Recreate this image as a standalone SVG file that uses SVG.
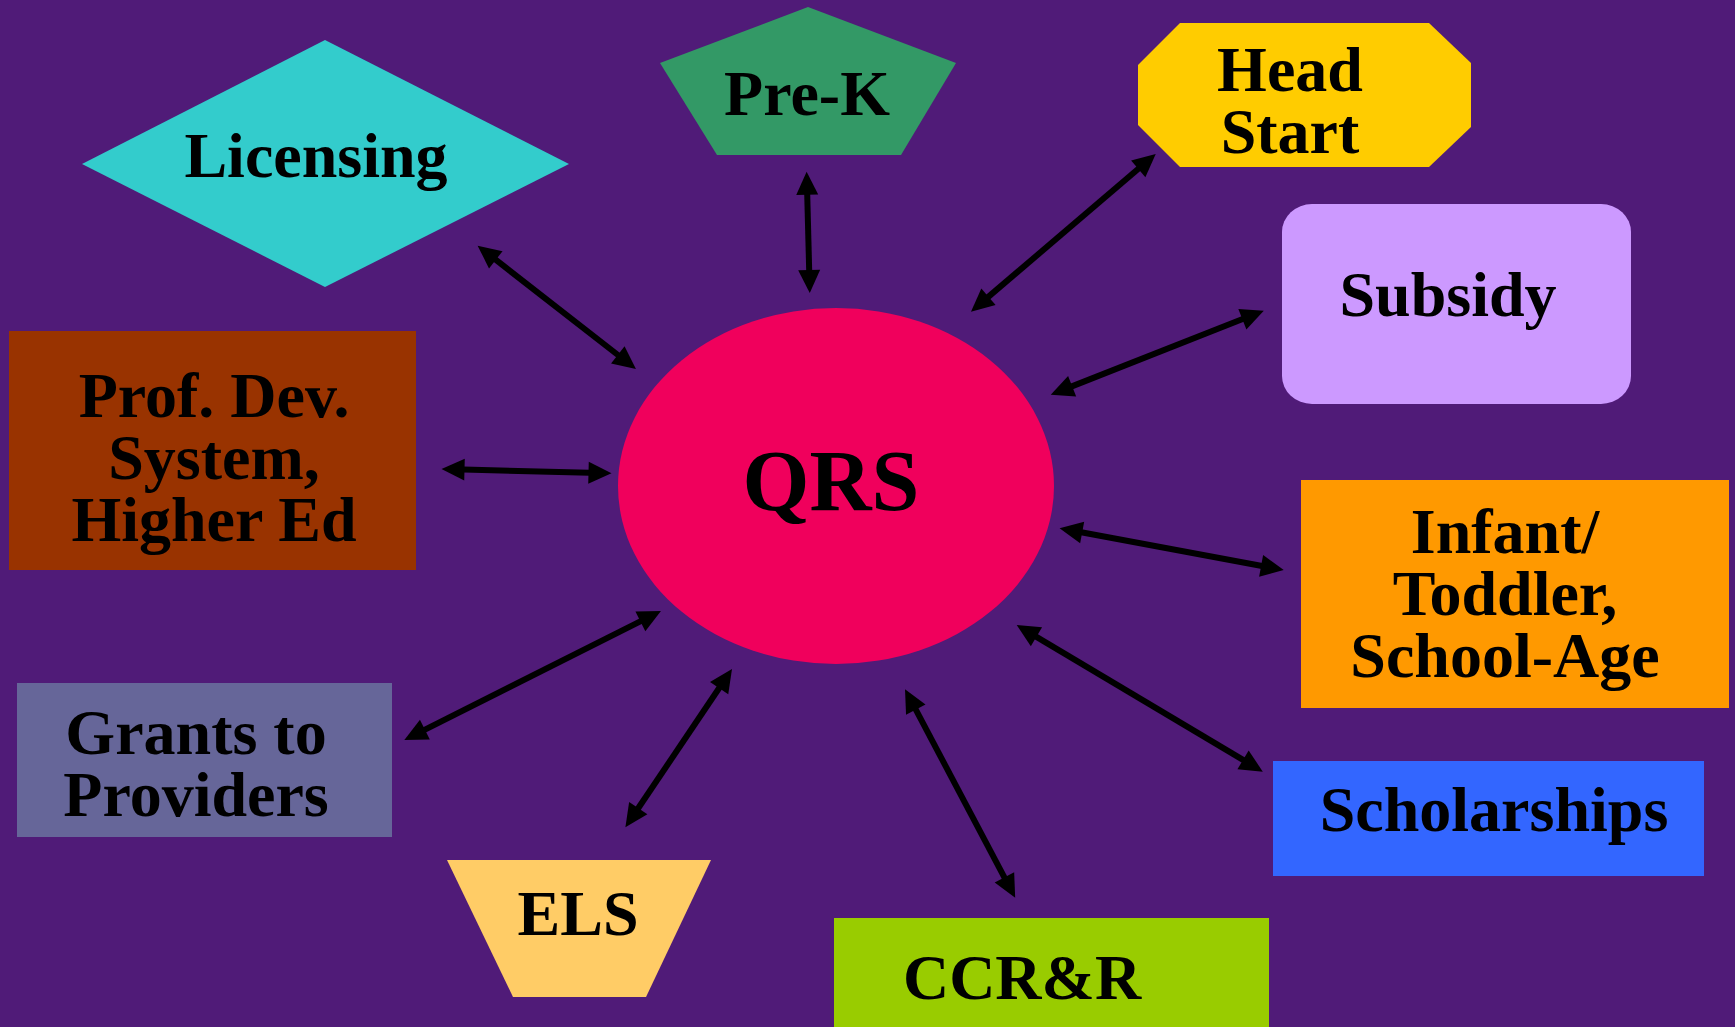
<svg xmlns="http://www.w3.org/2000/svg" width="1735" height="1027" viewBox="0 0 1735 1027">
<style>
.t{font-family:"Liberation Serif","Times New Roman",serif;font-weight:bold;font-size:64px;fill:#000;text-anchor:middle}
.q{font-size:86px}
.c{stroke:#000;stroke-width:6;fill:none;marker-start:url(#ah);marker-end:url(#ah)}
</style>
<defs>
<marker id="ah" markerUnits="userSpaceOnUse" markerWidth="30" markerHeight="30" refX="1" refY="11" orient="auto-start-reverse" overflow="visible">
<path d="M0,0 L23,11 L0,22 z" fill="#000"/>
</marker>
</defs>
<rect x="0" y="0" width="1735" height="1027" fill="#501B78"/>
<g id="licensing">
<polygon points="82,164 325,40 569,164 325,287" fill="#33CCCC"/>
<text class="t" x="316" y="177">Licensing</text>
</g>
<g id="prek">
<polygon points="808,7 956,63 901,155 717,155 660,63" fill="#339966"/>
<text class="t" x="807" y="115">Pre-K</text>
</g>
<g id="headstart">
<polygon points="1180,23 1429,23 1471,63 1471,127 1429,167 1180,167 1138,125 1138,65" fill="#FFCC00"/>
<text class="t" x="1290" y="91">Head</text>
<text class="t" x="1290" y="153">Start</text>
</g>
<g id="subsidy">
<rect x="1282" y="204" width="349" height="200" rx="30" ry="28" fill="#CC99FF"/>
<text class="t" x="1448" y="316">Subsidy</text>
</g>
<g id="profdev">
<rect x="9" y="331" width="407" height="239" fill="#993300"/>
<text class="t" x="214" y="417">Prof. Dev.</text>
<text class="t" x="214" y="479">System,</text>
<text class="t" x="214" y="541">Higher Ed</text>
</g>
<g id="qrs">
<ellipse cx="836" cy="486" rx="218" ry="178" fill="#F0005C"/>
<text class="t q" x="831" y="510">QRS</text>
</g>
<g id="infant">
<rect x="1301" y="480" width="428" height="228" fill="#FF9900"/>
<text class="t" x="1505" y="553">Infant/</text>
<text class="t" x="1505" y="615">Toddler,</text>
<text class="t" x="1505" y="677">School-Age</text>
</g>
<g id="scholarships">
<rect x="1273" y="761" width="431" height="115" fill="#3366FF"/>
<text class="t" x="1494" y="831">Scholarships</text>
</g>
<g id="grants">
<rect x="17" y="683" width="375" height="154" fill="#666699"/>
<text class="t" x="196" y="754">Grants to</text>
<text class="t" x="196" y="816">Providers</text>
</g>
<g id="els">
<polygon points="447,860 711,860 646,997 513,997" fill="#FFCC66"/>
<text class="t" x="578" y="935">ELS</text>
</g>
<g id="ccrr">
<rect x="834" y="918" width="435" height="109" fill="#99CC00"/>
<text class="t" x="1022" y="999">CCR&amp;R</text>
</g>
<g id="connectors">
<line class="c" x1="495" y1="259.2" x2="618.6" y2="355.5"/>
<line class="c" x1="807.2" y1="193.7" x2="809.2" y2="271"/>
<line class="c" x1="1139" y1="168.3" x2="987.7" y2="297.4"/>
<line class="c" x1="1243.3" y1="318.8" x2="1071.2" y2="386.6"/>
<line class="c" x1="463.5" y1="469.6" x2="589.5" y2="472.7"/>
<line class="c" x1="1262.1" y1="566" x2="1081.2" y2="532.3"/>
<line class="c" x1="1243.9" y1="760.4" x2="1035.6" y2="636.3"/>
<line class="c" x1="424" y1="730.1" x2="641.3" y2="620.9"/>
<line class="c" x1="637.7" y1="809" x2="719.7" y2="687.3"/>
<line class="c" x1="1004.9" y1="878.3" x2="915.3" y2="708.7"/>
</g>
</svg>
